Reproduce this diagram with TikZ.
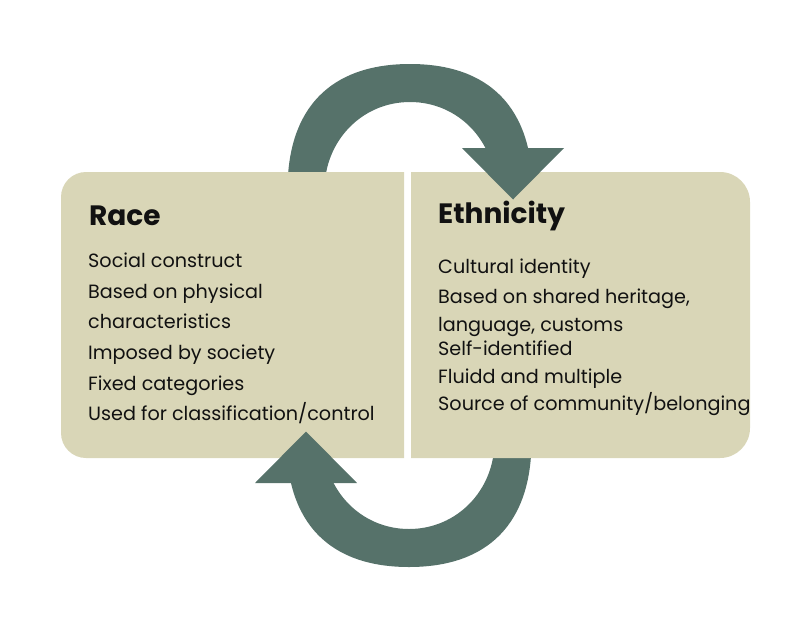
\documentclass[tikz,border=0pt]{standalone}
\usepackage{fontspec}
\setmainfont{Poppins}
\definecolor{boxfill}{HTML}{D9D6B7}
\definecolor{arrowfill}{HTML}{56726A}
\definecolor{txt}{HTML}{111111}
\tikzset{
  bodytext/.style={anchor=base west, inner sep=0pt, text=txt, font=\fontsize{19.2}{23}\selectfont},
  headtext/.style={anchor=base west, inner sep=0pt, text=txt, font=\fontsize{28}{32}\selectfont\bfseries},
  boxshape/.style={fill=boxfill},
  arrowshape/.style={fill=arrowfill}
}
\begin{document}
\begin{tikzpicture}[x=1pt,y=-1pt]
\useasboundingbox (0,0) rectangle (800,616);
% curved bands (behind the boxes)
\def\band{(287.5,200) -- (287.5,190)
   .. controls (287.5,108.1) and (330.4,64) .. (410,64)
   .. controls (489.6,64) and (532.5,108.1) .. (532.5,190) -- (532.5,200)
   -- (495.5,200) -- (495.5,190)
   .. controls (495.5,140.7) and (457.9,102) .. (410,102)
   .. controls (362.1,102) and (324.5,140.7) .. (324.5,190) -- (324.5,200) -- cycle}
\fill[arrowshape] \band;
\begin{scope}[rotate around={180:(409.5,315.5)}]
\fill[arrowshape] \band;
\end{scope}
% boxes
\fill[boxshape] (404,172) -- (86,172) .. controls (72.2,172) and (61,183.2) .. (61,197)
  -- (61,433) .. controls (61,446.8) and (72.2,458) .. (86,458) -- (404,458) -- cycle;
\fill[boxshape] (411,172) -- (720,172) .. controls (736.6,172) and (750,185.4) .. (750,202)
  -- (750,428) .. controls (750,444.6) and (736.6,458) .. (720,458) -- (411,458) -- cycle;
% arrow heads (on top of the boxes)
\fill[arrowshape] (462,148) -- (564,148) -- (513,199.5) -- cycle;
\fill[arrowshape] (357,483) -- (255,483) -- (306,431.5) -- cycle;
% texts
\node[headtext] (race) at (89,225) {Race};
\node[bodytext] (r1) at (88,267.7) {Social construct};
\node[bodytext] (r2) at (88,298.3) {Based on physical};
\node[bodytext] (r3) at (88,328.3) {characteristics};
\node[bodytext] (r4) at (88,359.3) {Imposed by society};
\node[bodytext] (r5) at (88,390) {Fixed categories};
\node[bodytext] (r6) at (88,420) {Used for classification/control};
\node[headtext] (eth) at (438,223) {Ethnicity};
\node[bodytext] (e1) at (438,273.3) {Cultural identity};
\node[bodytext] (e2) at (438,303.3) {Based on shared heritage,};
\node[bodytext] (e3) at (438,331.7) {language, customs};
\node[bodytext] (e4) at (438,355.7) {Self-identified};
\node[bodytext] (e5) at (438,383.3) {Fluidd and multiple};
\node[bodytext] (e6) at (438,410.7) {Source of community/belonging};
\end{tikzpicture}
\end{document}
